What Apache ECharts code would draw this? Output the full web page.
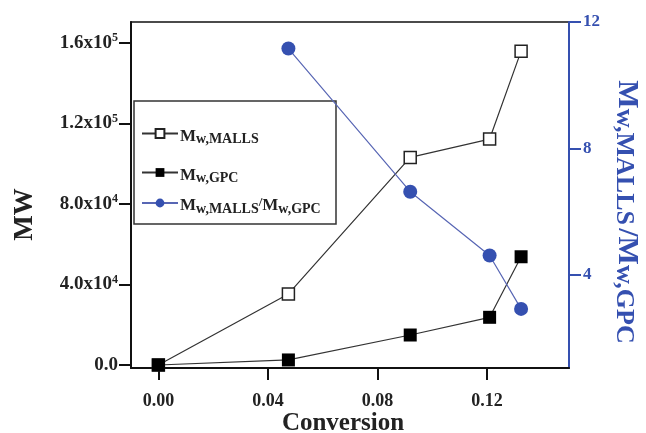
<!DOCTYPE html>
<html><head><meta charset="utf-8">
<script src="https://cdn.jsdelivr.net/npm/echarts@6/dist/echarts.min.js"></script>
<style>html,body{margin:0;padding:0;background:#fff}#c{width:646px;height:433px}</style>
</head><body><div id="c"></div>
<script>
// Data
const conversion = [0, 0.0475, 0.092, 0.121, 0.1325];
const mwMalls = [0, 35300, 103200, 112300, 156000];
const mwGpc = [0, 2500, 14900, 23700, 53800];
const ratioConversion = [0.0475, 0.092, 0.121, 0.1325];
const ratio = [11.16, 6.63, 4.61, 2.92];
const xTicks = [0, 0.04, 0.08, 0.12];
const leftTicks = [0, 40000, 80000, 120000, 160000];
const rightTicks = [4, 8, 12];

const FONT = 'Liberation Serif';
const BLUE = '#3550b0';
const BLUE_LINE = '#5866b4';

function sci(v) {
  if (v === 0) return '{b|0.0}';
  const e = Math.floor(Math.log10(v) + 1e-9);
  const m = v / Math.pow(10, e);
  return '{b|' + m.toFixed(1) + 'x10}{sup|' + e + '}';
}

const legendRich = {
  m: { fontFamily: FONT, fontWeight: 'bold', fontSize: 17, color: '#222', lineHeight: 20, verticalAlign: 'middle' },
  s: { fontFamily: FONT, fontWeight: 'bold', fontSize: 14, color: '#222', lineHeight: 14, verticalAlign: 'bottom' },
  sl: { fontFamily: FONT, fontWeight: 'bold', fontSize: 13, color: '#222', lineHeight: 20, verticalAlign: 'top' }
};
const legendNames = {
  malls: '{m|M}{s|w,MALLS}',
  gpc: '{m|M}{s|w,GPC}',
  ratio: '{m|M}{s|w,MALLS}{sl|/}{m|M}{s|w,GPC}'
};
function mkLegend(name, top) {
  return {
    data: [name], left: 141, top: top, padding: 0, itemWidth: 36, itemHeight: 11, itemGap: 0,
    formatter: n => legendNames[n],
    textStyle: { rich: legendRich, padding: [6, 0, 0, -3] },
    selectedMode: false
  };
}

const chart = echarts.init(document.getElementById('c'), null, { renderer: 'canvas' });
chart.setOption({
  animation: false,
  backgroundColor: '#fff',
  grid: { left: 131, top: 22, right: 77, bottom: 65, outerBoundsMode: 'none', containLabel: false,
    show: true, borderColor: '#111', borderWidth: 1.5, backgroundColor: 'transparent' },
  graphic: [{
    type: 'rect', shape: { x: 134, y: 101, width: 202, height: 123 },
    style: { fill: 'transparent', stroke: '#333', lineWidth: 1.5 }, z: 1
  }],
  legend: [mkLegend('malls', 128), mkLegend('gpc', 167), mkLegend('ratio', 196)],
  xAxis: {
    type: 'value', min: -0.01, max: 0.15,
    name: 'Conversion', nameLocation: 'middle', nameGap: 43, nameMoveOverlap: false,
    nameTextStyle: { fontFamily: FONT, fontWeight: 'bold', fontSize: 25, color: '#222', padding: [0, 14, 0, 0] },
    axisLine: { show: true, onZero: false, lineStyle: { color: '#111', width: 2 } },
    axisTick: { show: true, length: 12, customValues: xTicks, lineStyle: { color: '#111', width: 2 } },
    axisLabel: { customValues: xTicks, margin: 24, formatter: v => v.toFixed(2),
      fontFamily: FONT, fontWeight: 'bold', fontSize: 18, color: '#222' },
    splitLine: { show: false }
  },
  yAxis: [{
    type: 'value', min: -1500, max: 170500, position: 'left',
    name: 'MW', nameLocation: 'middle', nameGap: 92, nameMoveOverlap: false,
    nameTextStyle: { fontFamily: FONT, fontWeight: 'bold', fontSize: 27, color: '#222', padding: [0, 39, 0, 0] },
    axisLine: { show: true, onZero: false, lineStyle: { color: '#111', width: 2 } },
    axisTick: { show: true, length: 12, customValues: leftTicks, lineStyle: { color: '#111', width: 2 } },
    axisLabel: { customValues: leftTicks, margin: 13, formatter: sci,
      rich: {
        b: { fontFamily: FONT, fontWeight: 'bold', fontSize: 19, color: '#222', lineHeight: 22 },
        sup: { fontFamily: FONT, fontWeight: 'bold', fontSize: 12, color: '#222', lineHeight: 12, verticalAlign: 'top' }
      } },
    splitLine: { show: false }
  }, {
    type: 'value', min: 1.05, max: 12, position: 'right',
    name: '{m|M}{s|w,MALLS} {m|/M}{s|w,GPC}', nameLocation: 'middle', nameGap: 42, nameRotate: -90, nameMoveOverlap: false,
    nameTextStyle: { padding: [0, 0, 0, 34], rich: {
      m: { fontFamily: FONT, fontWeight: 'bold', fontSize: 30, color: BLUE, lineHeight: 32, verticalAlign: 'middle' },
      s: { fontFamily: FONT, fontWeight: 'bold', fontSize: 26, color: BLUE, lineHeight: 20, verticalAlign: 'bottom' }
    } },
    axisLine: { show: true, onZero: false, lineStyle: { color: BLUE, width: 2 } },
    axisTick: { show: true, length: 12, customValues: rightTicks, lineStyle: { color: BLUE, width: 2 } },
    axisLabel: { customValues: rightTicks, margin: 14, formatter: v => String(Math.round(v)),
      fontFamily: FONT, fontWeight: 'bold', fontSize: 17, color: BLUE },
    splitLine: { show: false }
  }],
  series: [{
    name: 'malls', type: 'line', yAxisIndex: 0,
    data: conversion.map((x, i) => [x, mwMalls[i]]),
    symbol: 'rect', symbolSize: 12, showAllSymbol: true,
    itemStyle: { color: '#fff', borderColor: '#222', borderWidth: 1.5 },
    lineStyle: { color: '#333', width: 1.2 }, z: 3
  }, {
    name: 'gpc', type: 'line', yAxisIndex: 0,
    data: conversion.map((x, i) => [x, mwGpc[i]]),
    symbol: 'rect', symbolSize: 13,
    itemStyle: { color: '#000', borderColor: '#000', borderWidth: 0 },
    lineStyle: { color: '#333', width: 1.2 }, z: 3
  }, {
    name: 'ratio', type: 'line', yAxisIndex: 1,
    data: ratioConversion.map((x, i) => [x, ratio[i]]),
    symbol: 'circle', symbolSize: 14,
    itemStyle: { color: BLUE, borderWidth: 0 },
    lineStyle: { color: BLUE_LINE, width: 1.2 }, z: 4
  }]
});
</script></body></html>
